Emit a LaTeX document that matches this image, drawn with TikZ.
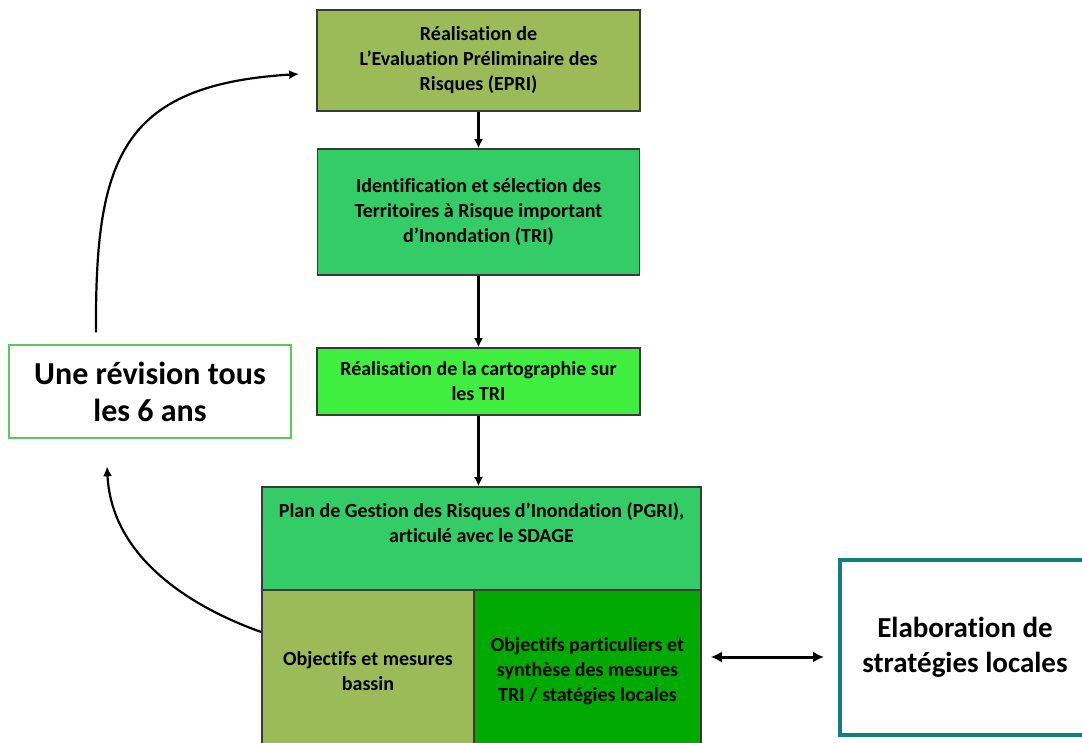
\documentclass[tikz,border=0pt]{standalone}
\usepackage{fontspec}
\setmainfont{Carlito}[Ligatures=NoCommon]
\usetikzlibrary{arrows.meta}
\definecolor{olivebox}{HTML}{9BBB59}
\definecolor{tribox}{HTML}{33CC66}
\definecolor{cartobox}{HTML}{40EE40}
\definecolor{darkbox}{HTML}{00AA00}
\definecolor{boxgray}{HTML}{3A3A3A}
\definecolor{revgreen}{HTML}{5CC85C}
\definecolor{tealbox}{HTML}{128080}
\begin{document}
\begin{tikzpicture}[x=1pt,y=-1pt,
  stepbox/.style={draw=boxgray,line width=1.6pt,align=center,inner sep=0pt,
    font=\bfseries\fontsize{20}{25}\selectfont},
  bigbox/.style={align=center,inner sep=0pt,font=\bfseries\fontsize{32}{37}\selectfont},
  arr/.style={line width=2.5pt,-{Latex[length=9pt,width=9pt]}},
  curvearr/.style={line width=2.2pt,-{Latex[length=10pt,width=9pt]}},
  dblarr/.style={line width=3pt,{Latex[length=11pt,width=11pt]}-{Latex[length=11pt,width=11pt]}}]
\clip (0,0) rectangle (1082,742);
\fill[white] (0,0) rectangle (1082,742);

\node[stepbox,fill=olivebox,minimum width=323pt,minimum height=101pt] (epri) at (478.5,60.5)
  {Réalisation de\\L’Evaluation Préliminaire des\\Risques (EPRI)};
\node[stepbox,fill=tribox,minimum width=322pt,minimum height=126pt] (tri) at (478.5,212)
  {Identification et sélection des\\Territoires à Risque important\\d’Inondation (TRI)};
\node[stepbox,fill=cartobox,minimum width=323pt,minimum height=67pt] (carto) at (478.5,381.5)
  {Réalisation de la cartographie sur\\les TRI};
\node[stepbox,fill=tribox,minimum width=439pt,minimum height=103pt,
  label={[stepbox,draw=none,anchor=center,yshift=15.5pt]center:Plan de Gestion des Risques d’Inondation (PGRI),\\articulé avec le SDAGE}]
  (pgri) at (481.5,538.5) {};
\node[stepbox,fill=olivebox,minimum width=212pt,minimum height=162pt] (pleft) at (368,671)
  {Objectifs et mesures\\bassin};
\node[stepbox,fill=darkbox,minimum width=227pt,minimum height=162pt] (pright) at (587.5,671)
  {Objectifs particuliers et\\synthèse des mesures\\TRI / statégies locales};

\node[bigbox,draw=revgreen,line width=1.5pt,minimum width=282pt,minimum height=93pt] (rev) at (150,391.5)
  {Une révision tous\\les 6 ans};
\node[bigbox,draw=tealbox,line width=4pt,minimum width=250pt,minimum height=175pt,
  font=\bfseries\fontsize{29}{35}\selectfont] (elab) at (965,647.5)
  {Elaboration de\\stratégies locales};

\draw[arr] (epri.south) -- (epri.south |- tri.north);
\draw[arr] (tri.south) -- (tri.south |- carto.north);
\draw[arr] (carto.south) -- (carto.south |- pgri.north);

\coordinate (upstart) at ([xshift=-54pt,yshift=12pt]rev.north);
\coordinate (upend) at ([xshift=-17pt,yshift=-13.5pt]epri.west);
\draw[curvearr] (upstart) .. controls (95,160) and (120,85) .. (upend);

\coordinate (downstart) at ([yshift=39pt]pleft.west);
\coordinate (downend) at ([xshift=-43pt,yshift=-27.5pt]rev.south);
\draw[curvearr] (downstart) .. controls (205,612) and (112,565) .. (downend);

\draw[dblarr,shorten <=9pt,shorten >=14pt] ([yshift=14pt]pright.east) -- ([yshift=-9.5pt]elab.west);
\end{tikzpicture}
\end{document}
